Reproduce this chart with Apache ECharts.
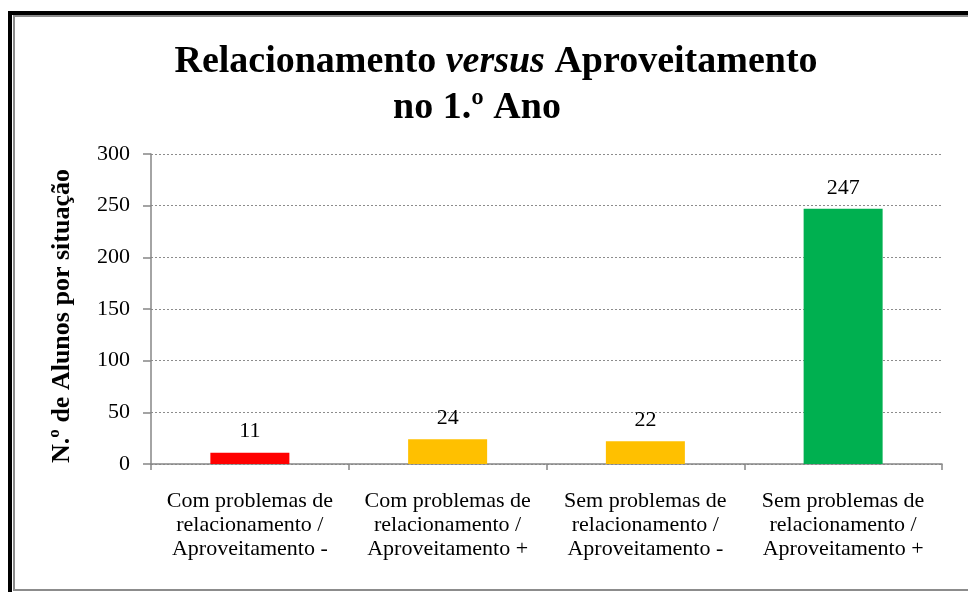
<!DOCTYPE html>
<html>
<head>
<meta charset="utf-8">
<script src="https://cdn.jsdelivr.net/npm/echarts@6/dist/echarts.min.js"></script>
<style>
  html, body { margin: 0; padding: 0; background: #fff; }
  #main { width: 968px; height: 592px; }
</style>
</head>
<body>
<div id="main"></div>
<script>
var categories = [
    'Com problemas de\nrelacionamento /\nAproveitamento -',
    'Com problemas de\nrelacionamento /\nAproveitamento +',
    'Sem problemas de\nrelacionamento /\nAproveitamento -',
    'Sem problemas de\nrelacionamento /\nAproveitamento +'
];
var values = [11, 24, 22, 247];
var barColors = ['#FF0000', '#FFC000', '#FFC000', '#00B050'];
var yTicks = [0, 50, 100, 150, 200, 250, 300];

var serif = '"Liberation Serif", "Times New Roman", serif';
var gray = '#868686';

var myChart = echarts.init(document.getElementById('main'));

var option = {
    backgroundColor: '#fff',
    animation: false,
    title: {
        left: 491,
        top: 34,
        textAlign: 'center',
        // espacos no fim da 2a linha para a deslocar um pouco para a esquerda
        text: '{b|Relacionamento }{i|versus}{b| Aproveitamento}\n{b|no 1.º Ano    }',
        textStyle: {
            rich: {
                b: { fontFamily: serif, fontWeight: 'bold', fontSize: 38, color: '#000', lineHeight: 46 },
                i: { fontFamily: serif, fontWeight: 'bold', fontStyle: 'italic', fontSize: 38, color: '#000', lineHeight: 46 }
            }
        }
    },
    graphic: [
        // moldura
        { type: 'rect', shape: { x: 8, y: 11, width: 970, height: 4 }, style: { fill: '#000' } },
        { type: 'rect', shape: { x: 8, y: 11, width: 4, height: 600 }, style: { fill: '#000' } },
        { type: 'rect', shape: { x: 13, y: 15, width: 960, height: 2 }, style: { fill: '#8c8c8c' } },
        { type: 'rect', shape: { x: 13, y: 15, width: 2, height: 576 }, style: { fill: '#8c8c8c' } },
        { type: 'rect', shape: { x: 13, y: 589, width: 960, height: 2 }, style: { fill: '#8c8c8c' } }
    ],
    grid: {
        left: 151,
        right: 26,
        top: 154,
        bottom: 128
    },
    xAxis: {
        type: 'category',
        data: categories,
        axisLine: { lineStyle: { color: gray, width: 1.5 } },
        axisTick: { show: true, length: 6, lineStyle: { color: gray, width: 1.5 } },
        axisLabel: {
            fontFamily: serif,
            fontSize: 22,
            color: '#000',
            lineHeight: 24,
            margin: 25,
            interval: 0
        }
    },
    yAxis: {
        type: 'value',
        min: yTicks[0],
        max: yTicks[yTicks.length - 1],
        interval: 50,
        name: 'N.º de Alunos por situação',
        nameLocation: 'middle',
        nameGap: 76,
        nameTextStyle: {
            fontFamily: serif,
            fontWeight: 'bold',
            fontSize: 26,
            color: '#000',
            padding: [0, 14, 0, 0]
        },
        axisLine: { show: true, lineStyle: { color: gray, width: 1.5 } },
        axisTick: { show: true, length: 8, lineStyle: { color: gray, width: 1.5 } },
        axisLabel: {
            fontFamily: serif,
            fontSize: 22,
            color: '#000',
            margin: 21
        },
        splitLine: {
            show: true,
            lineStyle: { color: '#8c8c8c', type: [2, 2], width: 1 }
        }
    },
    series: [{
        type: 'bar',
        barWidth: 79,
        data: values.map(function (v, i) {
            return { value: v, itemStyle: { color: barColors[i] } };
        }),
        label: {
            show: true,
            position: 'top',
            distance: 10,
            fontFamily: serif,
            fontSize: 22,
            color: '#000'
        }
    }]
};

myChart.setOption(option);
</script>
</body>
</html>
